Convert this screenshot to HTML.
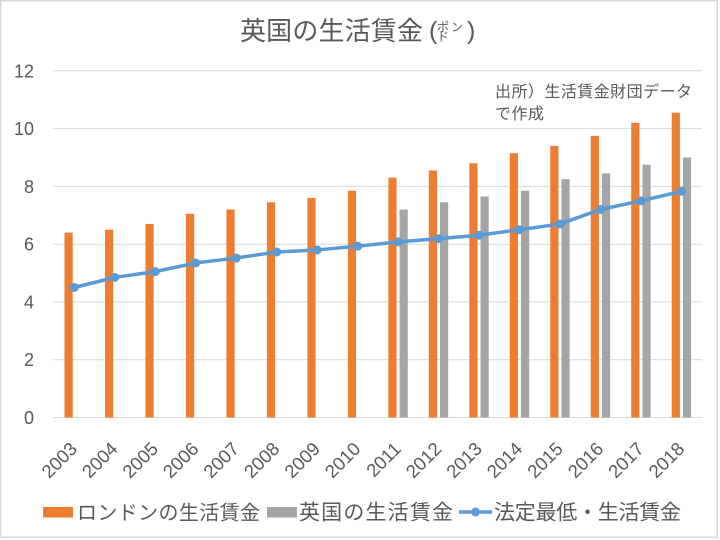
<!DOCTYPE html>
<html>
<head>
<meta charset="utf-8">
<style>
  html, body { margin:0; padding:0; background:#fff; }
  svg { display:block; }
  .cjk { font-family: "Liberation Sans", "Noto Sans CJK JP", sans-serif; fill:#595959; }
  .num { font-family: "Liberation Sans", sans-serif; fill:#595959; }
</style>
</head>
<body>
<svg width="720" height="540" viewBox="0 0 720 540" xmlns="http://www.w3.org/2000/svg">
  <rect x="0" y="0" width="720" height="540" fill="#fff"/>
  <rect x="0.75" y="0.75" width="716.5" height="536.5" fill="none" stroke="#d9d9d9" stroke-width="1.5"/>

  <!-- Title -->
  <text class="cjk" x="240" y="40" font-size="26" textLength="183" lengthAdjust="spacing">英国の生活賃金</text>
  <text class="num" x="429" y="39" font-size="25">(</text>
  <text class="cjk" x="437" y="31" font-size="12" textLength="26" lengthAdjust="spacing">ポン</text>
  <text class="cjk" x="437" y="41" font-size="12">ド</text>
  <text class="num" x="467" y="39" font-size="25">)</text>

  <!-- Gridlines -->
  <g stroke="#d9d9d9" stroke-width="1">
    <line x1="53" y1="70.8" x2="702" y2="70.8"/>
    <line x1="53" y1="128.6" x2="702" y2="128.6"/>
    <line x1="53" y1="186.4" x2="702" y2="186.4"/>
    <line x1="53" y1="244.2" x2="702" y2="244.2"/>
    <line x1="53" y1="301.9" x2="702" y2="301.9"/>
    <line x1="53" y1="359.7" x2="702" y2="359.7"/>
    <line x1="53" y1="417.5" x2="702" y2="417.5"/>
  </g>

  <!-- Y labels -->
  <g class="num" font-size="18" text-anchor="end">
    <text x="34" y="77.3">12</text>
    <text x="34" y="135.1">10</text>
    <text x="34" y="192.9">8</text>
    <text x="34" y="250.7">6</text>
    <text x="34" y="308.4">4</text>
    <text x="34" y="366.2">2</text>
    <text x="34" y="424">0</text>
  </g>

  <!-- London bars -->
  <g fill="#ED7D31">
    <rect x="64.5" y="232.60" width="8.2" height="184.90"/>
    <rect x="104.98" y="229.71" width="8.2" height="187.79"/>
    <rect x="145.46" y="223.94" width="8.2" height="193.56"/>
    <rect x="185.94" y="213.83" width="8.2" height="203.67"/>
    <rect x="226.42" y="209.49" width="8.2" height="208.01"/>
    <rect x="266.9" y="202.27" width="8.2" height="215.23"/>
    <rect x="307.38" y="197.94" width="8.2" height="219.56"/>
    <rect x="347.86" y="190.71" width="8.2" height="226.79"/>
    <rect x="388.34" y="177.71" width="8.2" height="239.79"/>
    <rect x="428.82" y="170.49" width="8.2" height="247.01"/>
    <rect x="469.3" y="163.27" width="8.2" height="254.23"/>
    <rect x="509.78" y="153.16" width="8.2" height="264.34"/>
    <rect x="550.26" y="145.93" width="8.2" height="271.57"/>
    <rect x="590.74" y="135.82" width="8.2" height="281.68"/>
    <rect x="631.22" y="122.82" width="8.2" height="294.68"/>
    <rect x="671.7" y="112.71" width="8.2" height="304.79"/>
  </g>

  <!-- UK bars -->
  <g fill="#A5A5A5">
    <rect x="399.54" y="209.49" width="8.2" height="208.01"/>
    <rect x="440.02" y="202.27" width="8.2" height="215.23"/>
    <rect x="480.5" y="196.49" width="8.2" height="221.01"/>
    <rect x="520.98" y="190.71" width="8.2" height="226.79"/>
    <rect x="561.46" y="179.16" width="8.2" height="238.34"/>
    <rect x="601.94" y="173.38" width="8.2" height="244.12"/>
    <rect x="642.42" y="164.71" width="8.2" height="252.79"/>
    <rect x="682.9" y="157.49" width="8.2" height="260.01"/>
  </g>

  <!-- Minimum wage line -->
  <polyline fill="none" stroke="#5B9BD5" stroke-width="3.5" stroke-linejoin="round"
    points="74.30,287.49 114.78,277.38 155.26,271.61 195.74,262.94 236.22,258.03 276.70,251.96 317.18,249.94 357.66,246.18 398.14,241.85 438.62,238.67 479.10,235.20 519.58,229.71 560.06,223.94 600.54,209.49 641.02,200.82 681.50,191.29"/>
  <g fill="#5B9BD5">
    <circle cx="74.30" cy="287.49" r="4.5"/>
    <circle cx="114.78" cy="277.38" r="4.5"/>
    <circle cx="155.26" cy="271.61" r="4.5"/>
    <circle cx="195.74" cy="262.94" r="4.5"/>
    <circle cx="236.22" cy="258.03" r="4.5"/>
    <circle cx="276.70" cy="251.96" r="4.5"/>
    <circle cx="317.18" cy="249.94" r="4.5"/>
    <circle cx="357.66" cy="246.18" r="4.5"/>
    <circle cx="398.14" cy="241.85" r="4.5"/>
    <circle cx="438.62" cy="238.67" r="4.5"/>
    <circle cx="479.10" cy="235.20" r="4.5"/>
    <circle cx="519.58" cy="229.71" r="4.5"/>
    <circle cx="560.06" cy="223.94" r="4.5"/>
    <circle cx="600.54" cy="209.49" r="4.5"/>
    <circle cx="641.02" cy="200.82" r="4.5"/>
    <circle cx="681.50" cy="191.29" r="4.5"/>
  </g>

  <!-- X labels -->
  <g class="num" font-size="18.5" text-anchor="end">
    <text transform="translate(78.3,450) rotate(-45)">2003</text>
    <text transform="translate(118.78,450) rotate(-45)">2004</text>
    <text transform="translate(159.26,450) rotate(-45)">2005</text>
    <text transform="translate(199.74,450) rotate(-45)">2006</text>
    <text transform="translate(240.22,450) rotate(-45)">2007</text>
    <text transform="translate(280.7,450) rotate(-45)">2008</text>
    <text transform="translate(321.18,450) rotate(-45)">2009</text>
    <text transform="translate(361.66,450) rotate(-45)">2010</text>
    <text transform="translate(402.14,450) rotate(-45)">2011</text>
    <text transform="translate(442.62,450) rotate(-45)">2012</text>
    <text transform="translate(483.1,450) rotate(-45)">2013</text>
    <text transform="translate(523.58,450) rotate(-45)">2014</text>
    <text transform="translate(564.06,450) rotate(-45)">2015</text>
    <text transform="translate(604.54,450) rotate(-45)">2016</text>
    <text transform="translate(645.02,450) rotate(-45)">2017</text>
    <text transform="translate(685.5,450) rotate(-45)">2018</text>
  </g>

  <!-- Source annotation -->
  <text class="cjk" x="495" y="97" font-size="16" textLength="197" lengthAdjust="spacing">出所）生活賃金財団データ</text>
  <text class="cjk" x="495" y="119" font-size="16" textLength="49" lengthAdjust="spacing">で作成</text>

  <!-- Legend -->
  <rect x="43" y="507" width="30" height="10.5" fill="#ED7D31"/>
  <text class="cjk" x="77" y="519.5" font-size="20" textLength="183" lengthAdjust="spacing">ロンドンの生活賃金</text>
  <rect x="267" y="507" width="30" height="10.5" fill="#A5A5A5"/>
  <text class="cjk" x="299" y="519.5" font-size="21" textLength="154" lengthAdjust="spacing">英国の生活賃金</text>
  <line x1="459" y1="512" x2="492" y2="512" stroke="#5B9BD5" stroke-width="3.5"/>
  <circle cx="475.5" cy="512" r="4.5" fill="#5B9BD5"/>
  <text class="cjk" x="494" y="519.5" font-size="21" textLength="187" lengthAdjust="spacing">法定最低・生活賃金</text>
</svg>
</body>
</html>
